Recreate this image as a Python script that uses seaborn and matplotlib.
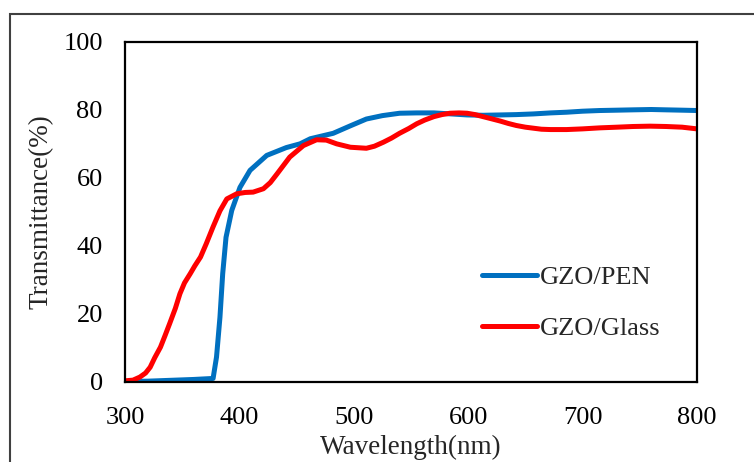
import matplotlib
matplotlib.use("Agg")
import matplotlib.pyplot as plt
from matplotlib.patches import Rectangle
import seaborn as sns
import pandas as pd

# Transmittance spectra (wavelength in nm, transmittance in %)
pen_wavelength = [300, 320, 336, 360, 377, 380, 383, 385.4, 388.3, 393.3, 400.5,
                  409.3, 423.9, 441, 453, 462, 482, 497, 511, 525, 540, 555, 570,
                  585, 599, 613, 628, 642, 657, 672, 686, 700, 715, 730, 744, 760,
                  773, 787, 800]
pen_transmittance = [0.0, 0.1, 0.3, 0.6, 0.9, 7.2, 18.9, 31.7, 42.4, 50.3, 57.1,
                     62.1, 66.5, 68.8, 69.9, 71.4, 73.0, 75.2, 77.2, 78.2, 78.9,
                     79.0, 79.0, 78.7, 78.4, 78.3, 78.4, 78.5, 78.7, 79.0, 79.2,
                     79.5, 79.7, 79.8, 79.9, 80.0, 79.9, 79.8, 79.7]

glass_wavelength = [300, 307, 313, 318, 322, 326, 331, 335, 339, 344, 348, 352, 357,
                    361, 366, 371, 377, 383, 389, 397.6, 405, 412, 421, 427, 433,
                    444, 456, 467.5, 476, 485, 497, 511, 518, 526, 533, 540, 548,
                    555, 562, 570, 577, 584, 592, 599, 606, 613, 620, 628, 635, 642,
                    650, 657, 664, 672, 686, 700, 715, 730, 744, 759, 773, 787, 800]
glass_transmittance = [0.2, 0.4, 1.3, 2.5, 4.2, 7.0, 10.1, 13.5, 17.0, 21.5, 25.8,
                       29.0, 31.7, 34.0, 36.6, 40.5, 45.5, 50.2, 53.7, 55.2, 55.6,
                       55.7, 56.7, 58.5, 61.1, 66.0, 69.4, 71.1, 71.0, 69.9, 68.9,
                       68.6, 69.2, 70.4, 71.6, 73.0, 74.4, 75.8, 76.9, 77.9, 78.5,
                       78.9, 79.0, 78.9, 78.5, 77.9, 77.3, 76.6, 75.9, 75.3, 74.8,
                       74.5, 74.2, 74.1, 74.1, 74.3, 74.6, 74.8, 75.0, 75.1, 75.0,
                       74.8, 74.3]

series_names = ["GZO/PEN", "GZO/Glass"]
series_colors = ["#0070C0", "#FF0000"]

x_ticks = [300, 400, 500, 600, 700, 800]
y_ticks = [0, 20, 40, 60, 80, 100]

df = pd.concat([
    pd.DataFrame({"Wavelength": pen_wavelength, "T": pen_transmittance,
                  "Sample": series_names[0]}),
    pd.DataFrame({"Wavelength": glass_wavelength, "T": glass_transmittance,
                  "Sample": series_names[1]}),
])

sns.set_theme(style="white")
plt.rcParams["font.family"] = ["Liberation Serif", "DejaVu Serif"]

W, H = 754, 462
fig = plt.figure(figsize=(W / 100, H / 100), dpi=100)
ax = fig.add_axes([125 / W, 1 - 381.5 / H, (697 - 125) / W, (381.5 - 41.5) / H])

sns.lineplot(data=df, x="Wavelength", y="T", hue="Sample", hue_order=series_names,
             palette=series_colors, linewidth=3.6, ax=ax, sort=False,
             estimator=None, legend=True)
for ln in ax.get_lines():
    ln.set_solid_joinstyle("round")
    ln.set_solid_capstyle("round")

ax.set_xlim(300, 800)
ax.set_ylim(0, 100)
ax.set_xticks(x_ticks)
ax.set_yticks(y_ticks)
ax.tick_params(axis="both", direction="in", length=6, width=1.2, colors="black",
               labelsize=19)
ax.tick_params(axis="y", pad=16)
ax.tick_params(axis="x", pad=18)
for sp in ax.spines.values():
    sp.set_visible(True)
    sp.set_color("black")
    sp.set_linewidth(1.6)

ax.set_xlabel("Wavelength(nm)", fontsize=19.5, va="bottom")
ax.set_ylabel("Transmittance(%)", fontsize=19.5)
ax.xaxis.set_label_coords(0.5, (381.5 - 460.5) / 340)
ax.yaxis.set_label_coords(-0.124, 0.5)

leg = ax.legend(loc="upper left", bbox_to_anchor=(0.605, 0.372), frameon=False,
                fontsize=19, handlelength=2.08, handletextpad=0.11,
                labelspacing=1.06, borderaxespad=0)
for line in leg.get_lines():
    line.set_linewidth(3.6)
    line.set_solid_capstyle("round")

# outer chart frame
fig.patches.append(Rectangle((10 / W, -0.2), 1.2, 1.2 - 14 / H,
                             transform=fig.transFigure, fill=False,
                             edgecolor="#404040", linewidth=1.5))

fig.savefig("out.png", dpi=100, facecolor="white")
